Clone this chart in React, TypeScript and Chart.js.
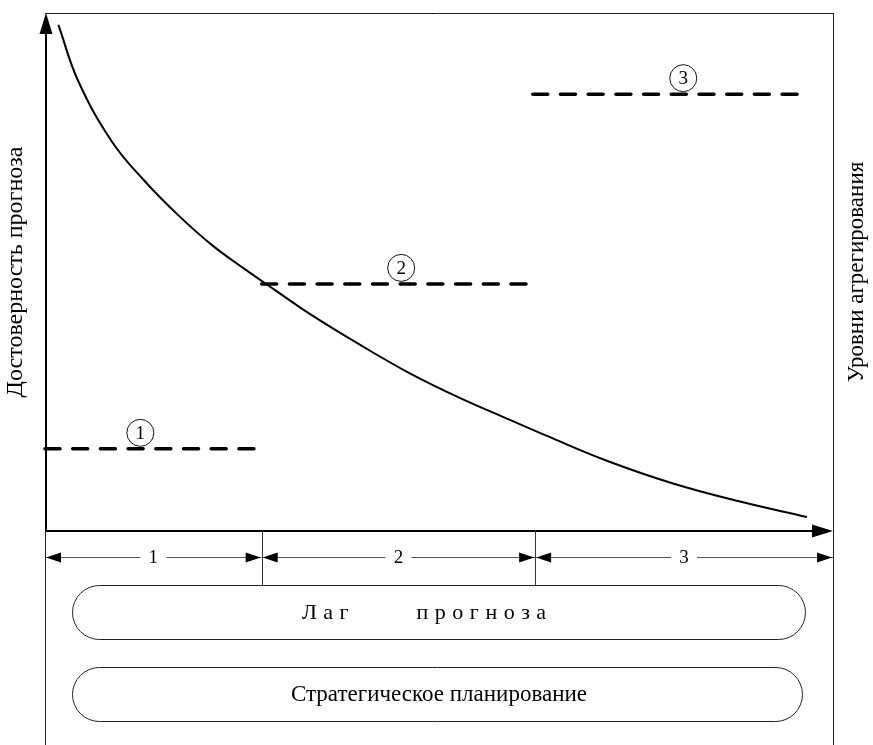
import React, { useEffect, useRef } from "react";
import { Chart, registerables } from "chart.js";
Chart.register(...registerables);

// Curve: forecast reliability vs. forecast lag (0..100 scales)
const curveX = [1.7, 4.2, 8.5, 12.7, 16.9, 21.2, 25.4, 29.2, 33.6, 40.0, 46.3, 52.7, 59.0, 63.7, 71.3, 79.7, 88.2, 96.7];
const curveY = [97.7, 86.9, 75.1, 67.4, 60.9, 55.1, 50.4, 46.4, 41.8, 35.8, 30.3, 25.5, 21.3, 18.2, 13.4, 9.0, 5.5, 2.5];

// Aggregation levels (dashed lines)
const levelNames = ["1", "2", "3"];
const levelStart = [0, 27.5, 61.9];
const levelEnd = [26.8, 61.3, 95.8];
const levelValue = [15.7, 47.6, 84.3];
const levelLabelX = [12.1, 45.2, 81.0];

// Lag segments along the x axis
const lagBounds = [0, 27.5, 62.2, 100];
const lagLabels = ["1", "2", "3"];

const yTitle = "Достоверность прогноза";
const rightTitle = "Уровни агрегирования";
const lagWords = ["Лаг", "прогноза"];
const planText = "Стратегическое планирование";

const FONT = '"Liberation Serif", "Times New Roman", serif';

function drawSpaced(ctx: CanvasRenderingContext2D, words: string[], cx: number, cy: number, spacing: number, gap: number) {
  const widthOf = (w: string) =>
    [...w].reduce((s, c) => s + ctx.measureText(c).width, 0) + spacing * ([...w].length - 1);
  const total = words.reduce((s, w) => s + widthOf(w), 0) + gap * (words.length - 1);
  let x = cx - total / 2;
  ctx.textAlign = "left";
  words.forEach((w) => {
    for (const c of w) {
      ctx.fillText(c, x, cy);
      x += ctx.measureText(c).width + spacing;
    }
    x += gap - spacing;
  });
}

function pill(ctx: CanvasRenderingContext2D, x1: number, y1: number, x2: number, y2: number) {
  const r = (y2 - y1) / 2;
  ctx.beginPath();
  ctx.moveTo(x1 + r, y1);
  ctx.lineTo(x2 - r, y1);
  ctx.arc(x2 - r, y1 + r, r, -Math.PI / 2, Math.PI / 2);
  ctx.lineTo(x1 + r, y2);
  ctx.arc(x1 + r, y1 + r, r, Math.PI / 2, (3 * Math.PI) / 2);
  ctx.closePath();
  ctx.stroke();
}

const diagramPlugin = {
  id: "diagram",
  afterDatasetsDraw(chart: any) {
    const ctx: CanvasRenderingContext2D = chart.ctx;
    const { left, right, top, bottom } = chart.chartArea;
    const xs = chart.scales.x;
    const ys = chart.scales.y;
    const H = chart.height;
    ctx.save();

    // frame
    ctx.strokeStyle = "#222";
    ctx.lineWidth = 1;
    ctx.beginPath();
    ctx.moveTo(left, top + 0.5);
    ctx.lineTo(right + 0.5, top + 0.5);
    ctx.moveTo(right + 0.5, top);
    ctx.lineTo(right + 0.5, H);
    ctx.moveTo(left + 0.5, bottom);
    ctx.lineTo(left + 0.5, H);
    ctx.stroke();

    // axes
    ctx.strokeStyle = "#000";
    ctx.fillStyle = "#000";
    ctx.lineWidth = 2;
    ctx.beginPath();
    ctx.moveTo(left + 1, bottom + 1);
    ctx.lineTo(left + 1, top + 18);
    ctx.moveTo(left, bottom + 1);
    ctx.lineTo(right - 18, bottom + 1);
    ctx.stroke();
    ctx.beginPath();
    ctx.moveTo(left + 1, top);
    ctx.lineTo(left + 1 - 6.5, top + 21);
    ctx.lineTo(left + 1 + 6.5, top + 21);
    ctx.closePath();
    ctx.fill();
    ctx.beginPath();
    ctx.moveTo(right, bottom + 1);
    ctx.lineTo(right - 21, bottom + 1 - 6.5);
    ctx.lineTo(right - 21, bottom + 1 + 6.5);
    ctx.closePath();
    ctx.fill();

    // level labels (circled numbers)
    ctx.lineWidth = 1;
    ctx.strokeStyle = "#111";
    ctx.font = `19px ${FONT}`;
    ctx.textAlign = "center";
    ctx.textBaseline = "middle";
    levelNames.forEach((n, i) => {
      const cx = xs.getPixelForValue(levelLabelX[i]);
      const cy = ys.getPixelForValue(levelValue[i]) - 16;
      ctx.beginPath();
      ctx.arc(cx, cy, 13.5, 0, Math.PI * 2);
      ctx.stroke();
      ctx.fillText(n, cx, cy + 1);
    });

    // lag dimension line
    const dimY = bottom + 27.5;
    const boxTop = bottom + 55;
    ctx.strokeStyle = "#333";
    ctx.lineWidth = 1;
    for (let i = 1; i < lagBounds.length - 1; i++) {
      const x = Math.round(xs.getPixelForValue(lagBounds[i])) + 0.5;
      ctx.beginPath();
      ctx.moveTo(x, bottom);
      ctx.lineTo(x, boxTop);
      ctx.stroke();
    }
    ctx.font = `19px ${FONT}`;
    lagLabels.forEach((lab, i) => {
      const a = xs.getPixelForValue(lagBounds[i]);
      const b = xs.getPixelForValue(lagBounds[i + 1]);
      ctx.strokeStyle = "#555";
      ctx.beginPath();
      ctx.moveTo(a, dimY);
      ctx.lineTo(b, dimY);
      ctx.stroke();
      ctx.fillStyle = "#000";
      ctx.beginPath();
      ctx.moveTo(a + 1, dimY);
      ctx.lineTo(a + 16, dimY - 5);
      ctx.lineTo(a + 16, dimY + 5);
      ctx.closePath();
      ctx.fill();
      ctx.beginPath();
      ctx.moveTo(b - 1, dimY);
      ctx.lineTo(b - 16, dimY - 5);
      ctx.lineTo(b - 16, dimY + 5);
      ctx.closePath();
      ctx.fill();
      const cx = (a + b) / 2;
      ctx.fillStyle = "#fff";
      ctx.beginPath();
      ctx.arc(cx, dimY, 13, 0, Math.PI * 2);
      ctx.fill();
      ctx.fillStyle = "#000";
      ctx.textAlign = "center";
      ctx.textBaseline = "middle";
      ctx.fillText(lab, cx, dimY + 1);
    });

    // rounded boxes
    ctx.strokeStyle = "#222";
    ctx.lineWidth = 1;
    pill(ctx, left + 27.5, boxTop + 0.5, right - 27.5, boxTop + 54.5);
    pill(ctx, left + 27.5, boxTop + 82.5, right - 30.5, boxTop + 136.5);
    ctx.fillStyle = "#000";
    ctx.font = `22px ${FONT}`;
    ctx.textBaseline = "middle";
    drawSpaced(ctx, lagWords, (left + right) / 2 - 15, boxTop + 28, 6.5, 68);
    ctx.textAlign = "center";
    ctx.font = `23px ${FONT}`;
    ctx.fillText(planText, (left + right) / 2 + 0, boxTop + 110);

    // side titles
    ctx.font = `24px ${FONT}`;
    ctx.save();
    ctx.translate(16, 272);
    ctx.rotate(-Math.PI / 2);
    ctx.textAlign = "center";
    ctx.textBaseline = "middle";
    ctx.fillText(yTitle, 0, 0);
    ctx.restore();
    ctx.font = `23px ${FONT}`;
    ctx.save();
    ctx.translate(857, 272);
    ctx.rotate(-Math.PI / 2);
    ctx.textAlign = "center";
    ctx.textBaseline = "middle";
    ctx.fillText(rightTitle, 0, 0);
    ctx.restore();

    ctx.restore();
  },
};

export default function App() {
  const ref = useRef<HTMLCanvasElement | null>(null);
  useEffect(() => {
    if (!ref.current) return;
    const datasets: any[] = [
      {
        data: curveX.map((x, i) => ({ x, y: curveY[i] })),
        borderColor: "#000",
        borderWidth: 2,
        pointRadius: 0,
        tension: 0.4,
        clip: false,
      },
      ...levelNames.map((_, i) => ({
        data: [
          { x: levelStart[i], y: levelValue[i] },
          { x: levelEnd[i], y: levelValue[i] },
        ],
        borderColor: "#000",
        borderWidth: 3.5,
        borderDash: [15, 12.7],
        borderCapStyle: "round",
        pointRadius: 0,
        clip: false,
      })),
    ];
    const chart = new Chart(ref.current, {
      type: "line",
      data: { datasets },
      options: {
        responsive: false,
        animation: false,
        devicePixelRatio: 1,
        events: [],
        layout: { padding: { left: 45, right: 40, top: 13, bottom: 215 } },
        scales: {
          x: { type: "linear", min: 0, max: 100, display: false },
          y: { type: "linear", min: 0, max: 100, display: false },
        },
        plugins: { legend: { display: false }, tooltip: { enabled: false } },
      },
      plugins: [diagramPlugin],
    } as any);
    return () => chart.destroy();
  }, []);
  return (
    <div style={{ position: "fixed", left: 0, top: 0, width: 873, height: 745, background: "#fff" }}>
      <canvas ref={ref} width={873} height={745} style={{ width: 873, height: 745, display: "block" }} />
    </div>
  );
}
